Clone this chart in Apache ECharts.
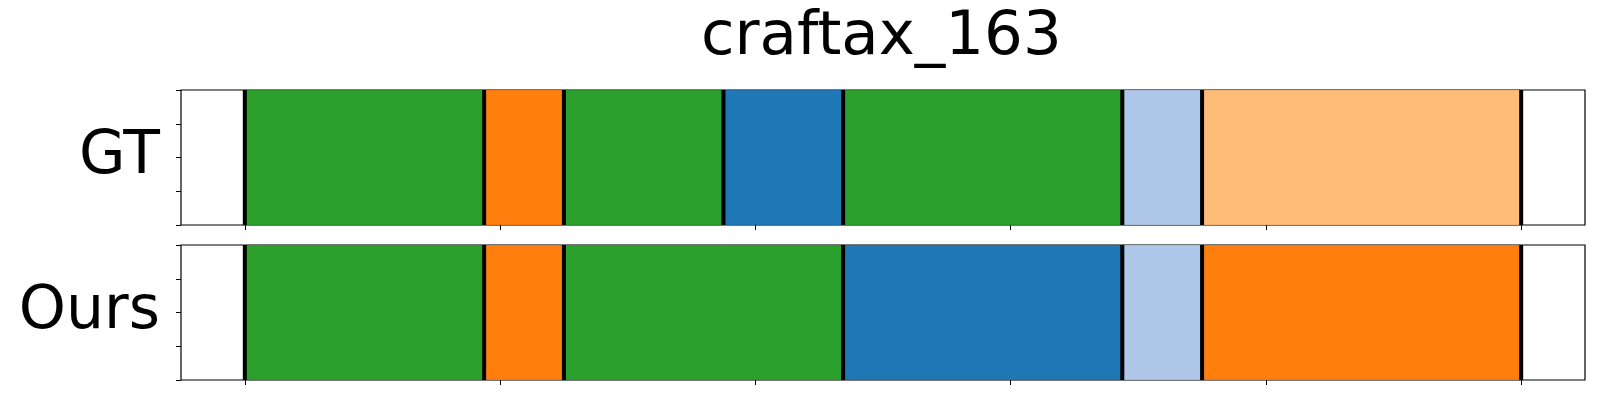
<!DOCTYPE html>
<html>
<head>
<meta charset="utf-8">
<script src="https://cdn.jsdelivr.net/npm/echarts@6/dist/echarts.min.js"></script>
<style>html,body{margin:0;padding:0;background:#fff}#c{width:1600px;height:400px}</style>
</head>
<body>
<div id="c"></div>
<script>
// ---- data ----
const titleText = 'craftax_163';
const rowNames = ['GT', 'Ours'];
const totalSteps = 32;
const xTickValues = [0, 6.4, 12.8, 19.2, 25.6, 32]; // 0,0.2,...,1.0 of the episode
const gtBounds = [0, 6, 8, 12, 15, 22, 24, 32];
const gtClasses = ['green', 'orange', 'green', 'blue', 'green', 'lightblue', 'lightorange'];
const oursBounds = [0, 6, 8, 15, 22, 24, 32];
const oursClasses = ['green', 'orange', 'green', 'blue', 'lightblue', 'orange'];
const classColors = {
  green: '#2ca02c', orange: '#ff7f0e', blue: '#1f77b4',
  lightblue: '#aec7e8', lightorange: '#ffbb78'
};

function segData(bounds, classes) {
  const out = [];
  for (let i = 0; i < classes.length; i++) out.push([bounds[i], bounds[i + 1], classes[i]]);
  return out;
}

const chart = echarts.init(document.getElementById('c'), null, {renderer: 'canvas'});
const FONT = 'DejaVu Sans';
const panels = [
  {top: 90, name: rowNames[0], segs: segData(gtBounds, gtClasses), bounds: gtBounds},
  {top: 245, name: rowNames[1], segs: segData(oursBounds, oursClasses), bounds: oursBounds}
];
const pad = totalSteps * 0.05;

const grid = [], xAxis = [], yAxis = [], series = [];
panels.forEach((p, i) => {
  grid.push({left: 181, top: p.top, width: 1404, height: 135, show: true,
    borderColor: '#000', borderWidth: 1.2, backgroundColor: 'transparent'});
  xAxis.push({type: 'value', gridIndex: i, min: -pad, max: totalSteps + pad, position: 'bottom',
    axisLine: {show: false, onZero: false}, splitLine: {show: false},
    axisTick: {show: true, length: 5, inside: false, customValues: xTickValues, lineStyle: {color: '#000', width: 1}},
    axisLabel: {show: false}});
  yAxis.push({type: 'value', gridIndex: i, min: 0, max: 1, interval: 0.25, position: 'left',
    axisLine: {show: false, onZero: false}, splitLine: {show: false},
    axisTick: {show: true, length: 5, inside: false, lineStyle: {color: '#000', width: 1}},
    axisLabel: {show: false},
    name: p.name, nameLocation: 'middle', nameRotate: 0, nameGap: 21,
    nameTextStyle: {fontFamily: FONT, fontSize: 60, color: '#000', align: 'right', verticalAlign: 'middle', padding: [0, 0, 12, 0]}});
  series.push({
    type: 'custom', xAxisIndex: i, yAxisIndex: i, data: p.segs, silent: true,
    renderItem: function (params, api) {
      const a = api.coord([api.value(0), 1]);
      const b = api.coord([api.value(1), 0]);
      const cls = p.segs[params.dataIndex][2];
      return {type: 'rect', shape: {x: a[0], y: a[1], width: b[0] - a[0], height: b[1] - a[1]},
        style: {fill: classColors[cls], stroke: 'rgba(0,0,0,0.12)', lineWidth: 1}};
    }
  });
  series.push({
    type: 'custom', xAxisIndex: i, yAxisIndex: i, data: p.bounds.map(v => [v]), silent: true, z: 3,
    renderItem: function (params, api) {
      const a = api.coord([api.value(0), 1]);
      const b = api.coord([api.value(0), 0]);
      return {type: 'line', shape: {x1: a[0], y1: a[1], x2: b[0], y2: b[1]},
        style: {stroke: '#000', lineWidth: 4}};
    }
  });
});

chart.setOption({
  animation: false,
  backgroundColor: '#fff',
  title: {text: titleText, left: 701, top: 8, padding: 0,
    textStyle: {fontFamily: FONT, fontSize: 61, fontWeight: 'normal', color: '#000'}},
  grid, xAxis, yAxis, series
});
</script>
</body>
</html>
